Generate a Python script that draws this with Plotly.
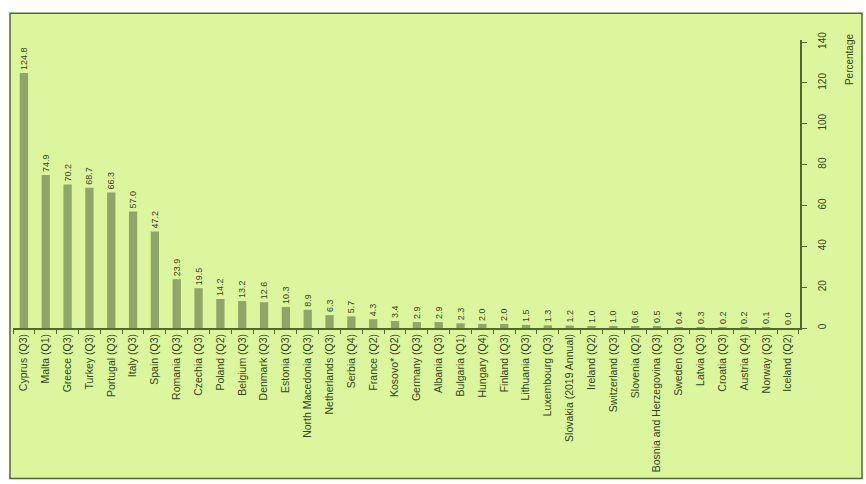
import plotly.graph_objects as go

categories = ["Cyprus (Q3)", "Malta (Q1)", "Greece (Q3)", "Turkey (Q3)", "Portugal (Q3)", "Italy (Q3)",
              "Spain (Q3)", "Romania (Q3)", "Czechia (Q3)", "Poland (Q2)", "Belgium (Q3)", "Denmark (Q3)",
              "Estonia (Q3)", "North Macedonia (Q3)", "Netherlands (Q3)", "Serbia (Q4)", "France (Q2)",
              "Kosovo* (Q2)", "Germany (Q3)", "Albania (Q3)", "Bulgaria (Q1)", "Hungary (Q4)", "Finland (Q3)",
              "Lithuania (Q3)", "Luxembourg (Q3)", "Slovakia (2019 Annual)", "Ireland (Q2)", "Switzerland (Q3)",
              "Slovenia (Q2)", "Bosnia and Herzegovina (Q3)", "Sweden (Q3)", "Latvia (Q3)", "Croatia (Q3)",
              "Austria (Q4)", "Norway (Q3)", "Iceland (Q2)"]
values = [124.8, 74.9, 70.2, 68.7, 66.3, 57.0, 47.2, 23.9, 19.5, 14.2, 13.2, 12.6, 10.3, 8.9, 6.3, 5.7,
          4.3, 3.4, 2.9, 2.9, 2.3, 2.0, 2.0, 1.5, 1.3, 1.2, 1.0, 1.0, 0.6, 0.5, 0.4, 0.3, 0.2, 0.2, 0.1, 0.0]
y_ticks = [0, 20, 40, 60, 80, 100, 120, 140]

FONT = "Liberation Sans Narrow, Arial Narrow, Liberation Sans, sans-serif"
TXT = "#34451c"
BG = "#dcf69e"
BAR = "#8fa66a"
LINE = "#4f6a2a"

fig = go.Figure(go.Bar(
    x=categories, y=values, marker=dict(color=BAR, line=dict(width=0)),
    texttemplate="%{y:.1f}", textposition="outside", textangle=-90,
    constraintext="none", cliponaxis=False,
    outsidetextfont=dict(family=FONT, size=9, color=TXT),
))

W, H = 866, 484
L, R, T, B = 13, 66, 40, 153
pw, ph = W - L - R, H - T - B

def px(xp):
    return (xp - L) / pw

def py(yp):
    return (H - B - yp) / ph

fig.add_shape(type="rect", xref="paper", yref="paper",
              x0=px(10), x1=px(862), y0=py(483), y1=py(13),
              fillcolor=BG, line=dict(color=LINE, width=1.5), layer="below")

fig.add_annotation(text="Percentage", xref="paper", yref="paper",
                   x=px(849), y=py(31), xanchor="center", yanchor="top",
                   textangle=-90, showarrow=False,
                   font=dict(family=FONT, size=10, color=TXT))

fig.update_layout(
    width=W, height=H, margin=dict(l=L, r=R, t=T, b=B),
    paper_bgcolor="white", plot_bgcolor="rgba(0,0,0,0)",
    bargap=0.62, showlegend=False,
    font=dict(family=FONT, size=10.5, color=TXT),
    xaxis=dict(range=[-0.5, 35.55], tickangle=-90, showgrid=False, showline=True,
               linecolor=LINE, linewidth=1.5, ticks="outside", tickson="boundaries",
               ticklen=4, tickcolor=LINE, tickfont=dict(family=FONT, size=10.5, color=TXT)),
    yaxis=dict(range=[0, 141], side="right", tickvals=y_ticks, tickangle=-90, showgrid=False,
               showline=True, linecolor=LINE, linewidth=1.5, ticks="outside", ticklen=5,
               ticklabelstandoff=7,
               tickcolor=LINE, zeroline=False, tickfont=dict(family=FONT, size=10, color=TXT)),
)

fig.write_html("out.html")
